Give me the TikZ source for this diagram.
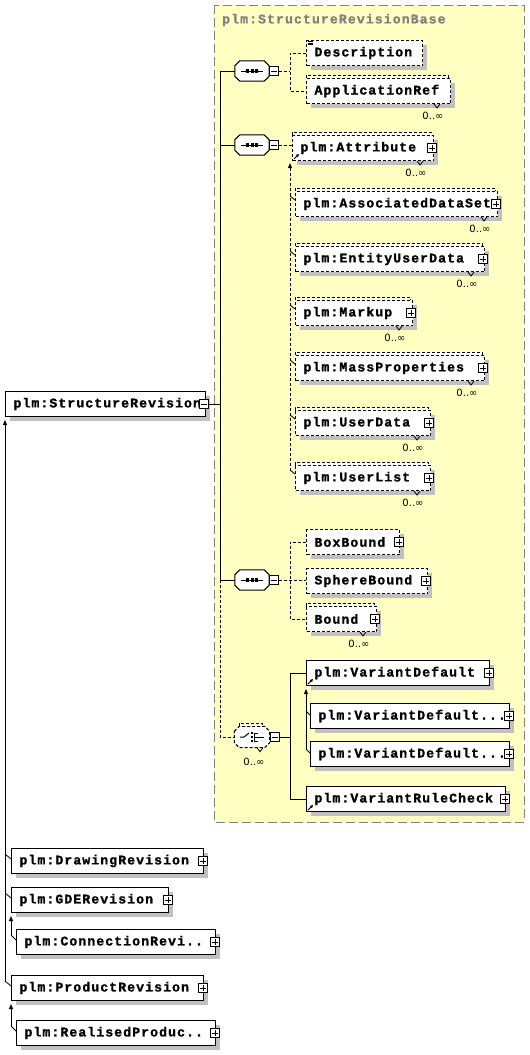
\documentclass[tikz,border=0pt]{standalone}
\usepackage{fontspec}
\usetikzlibrary{shadows,arrows.meta}
\newfontfamily\monob[LetterSpace=8,FakeBold=1.2]{Liberation Mono Bold}
\newfontfamily\dejav{DejaVu Sans}
\definecolor{bgyellow}{RGB}{255,255,194}
\definecolor{shadowgray}{RGB}{192,192,192}
\definecolor{bordergray}{RGB}{128,128,128}
\tikzset{
 lw/.style={line width=1pt},
 dsh/.style={dash pattern=on 3pt off 2pt},
 shad/.style={drop shadow={shadow xshift=4pt,shadow yshift=-4pt,fill=shadowgray,opacity=1}},
 boxfont/.style={font=\monob\fontsize{13.2}{15}\selectfont},
 elem/.style={draw, lw, fill=white, shad, anchor=north west, minimum height=25pt,
   inner xsep=8pt, inner ysep=0pt, align=left, boxfont},
 optelem/.style={elem, dsh},
 tw/.style={text width=#1pt},
 pm/.style={draw, lw, fill=white, minimum size=9pt, inner sep=0pt},
 plusbox/.style={pm, path picture={\draw[line width=0.9pt]
   ([xshift=-3pt]path picture bounding box.center) -- ([xshift=3pt]path picture bounding box.center)
   ([yshift=-3pt]path picture bounding box.center) -- ([yshift=3pt]path picture bounding box.center);}},
 minusbox/.style={pm, path picture={\draw[line width=0.9pt]
   ([xshift=-3pt]path picture bounding box.center) -- ([xshift=3pt]path picture bounding box.center);}},
 compo/.style={rectangle, draw=none, minimum width=34pt, minimum height=20pt, inner sep=0pt},
 multlbl/.style={font=\dejav\fontsize{10}{11}\selectfont, inner sep=0pt},
 subarrow/.style={lw, -{Triangle[length=5pt,width=4pt]}},
 tick/.style={line width=0.8pt}
}
\newcommand\octpath[1]{([yshift=-5pt]#1.north west) -- ([xshift=5pt]#1.north west) -- ([xshift=-5pt]#1.north east) -- ([yshift=-5pt]#1.north east) -- ([yshift=5pt]#1.south east) -- ([xshift=-5pt]#1.south east) -- ([xshift=5pt]#1.south west) -- ([yshift=5pt]#1.south west) -- cycle}
\newcommand\octa[2][]{%
  \begin{scope}[shift={(4pt,-4pt)}]\fill[shadowgray] \octpath{#2};\end{scope}
  \draw[lw, fill=white, #1] \octpath{#2};}
\newcommand\multiback[1]{%
  \fill[white] ([yshift=3pt]#1.north west) rectangle ([xshift=-3pt]#1.north east);
  \draw[lw,dsh] (#1.north west) -- ([yshift=3pt]#1.north west) -| ([xshift=-3pt]#1.north east);}
\newcommand\multmark[1]{%
  \draw[tick] ([xshift=-17pt]#1.south east) -- ++(3pt,-4pt) -- ++(3pt,4pt);
  \node[multlbl] (#1-mult) at ([shift={(-18pt,-12pt)}]#1.south east) {0..∞};}
\newcommand\refarrow[1]{%
  \draw[tick,-{Triangle[length=3pt,width=3pt]}] ([shift={(2pt,2pt)}]#1.south west) -- ++(5pt,5pt);}
\newcommand\seqicon[1]{%
  \draw[line width=1pt] ([xshift=-11pt]#1.center) -- ([xshift=11pt]#1.center);
  \fill ([shift={(-6pt,-1.6pt)}]#1.center) rectangle ++(3pt,3.2pt);
  \fill ([shift={(-1.5pt,-1.6pt)}]#1.center) rectangle ++(3pt,3.2pt);
  \fill ([shift={(3pt,-1.6pt)}]#1.center) rectangle ++(3pt,3.2pt);}
\begin{document}
\begin{tikzpicture}[x=1pt,y=-1pt]
\useasboundingbox (0,0) rectangle (530,1055);
% base type region
\draw[bordergray, lw, dash pattern=on 9pt off 4pt, fill=bgyellow] (214,5) rectangle (524,822);
\node[anchor=west, inner sep=0pt, text=bordergray, boxfont] (basetitle) at (222,20) {plm:StructureRevisionBase};

% main element
\node[elem, tw=184] (sr) at (5,391) {\mbox{plm:StructureRevision}};
\node[minusbox] (msr) at ([xshift=-2pt]sr.east) {};

% compositors
\node[compo] (seq1) at (252,71) {}; \octa{seq1} \seqicon{seq1}
\node[minusbox, anchor=west] (m1) at (seq1.east) {};
\node[compo] (seq2) at (252,145) {}; \octa{seq2} \seqicon{seq2}
\node[minusbox, anchor=west] (m2) at (seq2.east) {};
\node[compo] (seq3) at (252,580) {}; \octa{seq3} \seqicon{seq3}
\node[minusbox, anchor=west] (m3) at (seq3.east) {};
\node[compo, minimum width=35pt, minimum height=21pt] (choice) at (252,737) {};
\octa[dsh]{choice}
\fill[white] ([shift={(5pt,3pt)}]choice.north west) rectangle ([xshift=-7pt]choice.north east);
\draw[lw,dsh] ([shift={(5pt,0pt)}]choice.north west) -- ([shift={(5pt,3pt)}]choice.north west) -| ([xshift=-7pt]choice.north east);
\draw[line width=1pt] ([xshift=-12pt]choice.center) -- ([xshift=-8pt]choice.center) -- ([shift={(-3pt,4pt)}]choice.center);
\fill ([shift={(-1.5pt,-5pt)}]choice.center) rectangle ++(2.4pt,2.4pt);
\fill ([shift={(-1.5pt,-1.2pt)}]choice.center) rectangle ++(2.4pt,2.4pt);
\fill ([shift={(-1.5pt,2.6pt)}]choice.center) rectangle ++(2.4pt,2.4pt);
\draw[line width=1pt] ([shift={(2pt,-4pt)}]choice.center) -- ([shift={(2pt,4pt)}]choice.center)
  ([shift={(2pt,-4pt)}]choice.center) -- ([shift={(6pt,-4pt)}]choice.center)
  ([shift={(2pt,4pt)}]choice.center) -- ([shift={(6pt,4pt)}]choice.center)
  ([xshift=2pt]choice.center) -- ([xshift=12pt]choice.center);
\draw[tick] ([xshift=5pt]choice.south) -- ++(3pt,-4pt) -- ++(3pt,4pt);
\node[multlbl] (choice-mult) at ([shift={(2pt,-14pt)}]choice.south) {0..∞};
\node[minusbox, anchor=west] (m4) at (choice.east) {};

% sequence 1 children
\node[optelem, tw=100] (desc) at (306,40) {Description};
\draw[line width=0.6pt] ([shift={(1.5pt,-1.5pt)}]desc.north west) -- ++(5pt,0pt)
  ([shift={(1.5pt,-3pt)}]desc.north west) -- ++(5pt,0pt)
  ([shift={(1.5pt,-4.5pt)}]desc.north west) -- ++(5pt,0pt);
\node[optelem, tw=128] (appref) at (306,78) {ApplicationRef};
\multiback{appref} \multmark{appref}

% sequence 2 children
\node[optelem, tw=125] (attr) at (292,135) {plm:Attribute};
\multiback{attr} \multmark{attr} \refarrow{attr}
\node[plusbox] (attr-p) at ([xshift=-2pt]attr.east) {};
\node[optelem, tw=186] (ads) at (295,191) {\mbox{plm:AssociatedDataSet}};
\node[optelem, tw=173] (eud) at (295,246) {\mbox{plm:EntityUserData}};
\node[optelem, tw=101] (markup) at (295,300) {\mbox{plm:Markup}};
\node[optelem, tw=173] (mass) at (295,355) {\mbox{plm:MassProperties}};
\node[optelem, tw=119] (udata) at (295,410) {\mbox{plm:UserData}};
\node[optelem, tw=119] (ulist) at (295,465) {\mbox{plm:UserList}};
\foreach \m in {ads,eud,markup,mass,udata,ulist}{
  \multiback{\m} \multmark{\m}
  \node[plusbox] (\m-p) at ([xshift=-2pt]\m.east) {};
}

% sequence 3 children
\node[optelem, tw=77] (bbox) at (306,529) {\mbox{BoxBound}};
\node[plusbox] (bbox-p) at ([xshift=-1pt]bbox.east) {};
\node[optelem, tw=105] (sbound) at (306,568) {\mbox{SphereBound}};
\node[plusbox] (sbound-p) at ([xshift=-2pt]sbound.east) {};
\node[optelem, tw=54] (bound) at (306,606) {\mbox{Bound}};
\multiback{bound} \multmark{bound}
\node[plusbox] (bound-p) at ([xshift=-2pt]bound.east) {};

% choice children
\node[elem, tw=167] (vd) at (306,660) {\mbox{plm:VariantDefault}};
\refarrow{vd}
\node[plusbox] (vd-p) at ([xshift=-1pt]vd.east) {};
\node[elem, tw=183] (vd1) at (310,703) {\mbox{plm:VariantDefault...}};
\node[plusbox] (vd1-p) at ([xshift=-1pt]vd1.east) {};
\node[elem, tw=183] (vd2) at (310,741) {\mbox{plm:VariantDefault...}};
\node[plusbox] (vd2-p) at ([xshift=-1pt]vd2.east) {};
\node[elem, tw=183] (vrc) at (306,786) {\mbox{plm:VariantRuleCheck}};
\refarrow{vrc}
\node[plusbox] (vrc-p) at ([xshift=-1pt]vrc.east) {};

% derived types
\node[elem, tw=176] (dr) at (11,848) {\mbox{plm:DrawingRevision}};
\node[elem, tw=141] (gde) at (11,887) {\mbox{plm:GDERevision}};
\node[elem, tw=183] (conn) at (16,929) {\mbox{plm:ConnectionRevi..}};
\node[elem, tw=176] (prod) at (11,975) {\mbox{plm:ProductRevision}};
\node[elem, tw=183] (real) at (16,1020) {\mbox{plm:RealisedProduc..}};
\foreach \m in {dr,gde,conn,prod,real}{
  \node[plusbox] (\m-p) at ([xshift=-1pt]\m.east) {};
}

% connectors
\coordinate (b0) at (220,0);
\coordinate (b1) at (290,0);
\draw[lw] (msr.east) -- (msr.east -| b0);
\draw[lw] (seq1.west) -- (seq1.west -| b0) -- (seq3.west -| b0) -- (seq3.west);
\draw[lw] (seq2.west) -- (seq2.west -| b0);
\draw[lw, dsh] (seq3.west -| b0) -- (choice.west -| b0) -- (choice.west);

\draw[lw, dsh] (m1.east) -- (m1.east -| b1);
\draw[lw, dsh] (desc.west) -- (desc.west -| b1) -- (appref.west -| b1) -- (appref.west);

\draw[lw, dsh] (m2.east) -- (m2.east -| attr.west);
\draw[subarrow, dsh] ([yshift=-6pt]ulist.north west -| b1) -- ([yshift=-2pt]attr.south west -| b1);
\foreach \m in {ads,eud,markup,mass,udata,ulist}{
  \draw[tick] ([yshift=-5pt]\m.north west -| b1) -- ([yshift=-9pt]\m.north west);
}

\draw[lw, dsh] (m3.east) -- (m3.east -| sbound.west);
\draw[lw, dsh] (bbox.west) -- (bbox.west -| b1) -- (bound.west -| b1) -- (bound.west);

\draw[lw] (m4.east) -- (m4.east -| b1);
\draw[lw] (vd.west) -- (vd.west -| b1) -- (vrc.west -| b1) -- (vrc.west);
\draw[subarrow] ([yshift=-9pt]vd2.north west -| vd.west) -- ([yshift=-3pt]vd.south west);
\foreach \m in {vd1,vd2}{
  \draw[tick] ([yshift=-8pt]\m.north west -| vd.west) -- ([yshift=-12pt]\m.north west);
}

\draw[subarrow] ([yshift=-7pt]prod.north west -| sr.west) -- ([yshift=-3pt]sr.south west);
\foreach \m in {dr,gde,prod}{
  \draw[tick] ([yshift=-6pt]\m.north west -| sr.west) -- ([yshift=-11pt]\m.north west);
}
\draw[subarrow] ([yshift=-7pt]conn.north west -| gde.west) -- ([yshift=-3pt]gde.south west);
\draw[tick] ([yshift=-6pt]conn.north west -| gde.west) -- ([yshift=-11pt]conn.north west);
\draw[subarrow] ([yshift=-7pt]real.north west -| prod.west) -- ([yshift=-3pt]prod.south west);
\draw[tick] ([yshift=-6pt]real.north west -| prod.west) -- ([yshift=-11pt]real.north west);
\end{tikzpicture}
\end{document}
